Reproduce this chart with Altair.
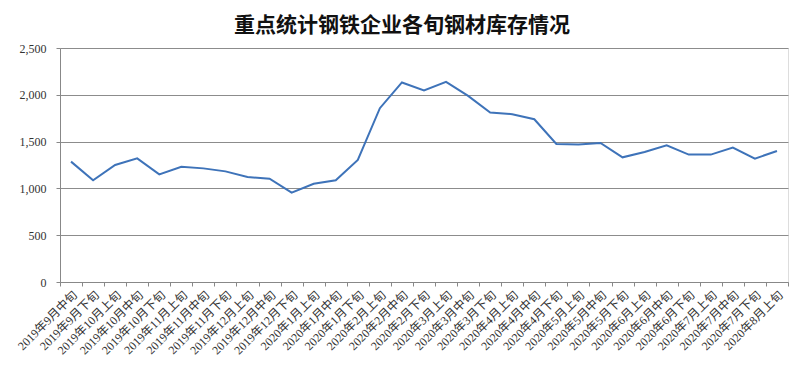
import altair as alt
import pandas as pd

periods = [
    "2019年9月中旬", "2019年9月下旬", "2019年10月上旬", "2019年10月中旬", "2019年10月下旬",
    "2019年11月上旬", "2019年11月中旬", "2019年11月下旬", "2019年12月上旬", "2019年12月中旬",
    "2019年12月下旬", "2020年1月上旬", "2020年1月中旬", "2020年1月下旬", "2020年2月上旬",
    "2020年2月中旬", "2020年2月下旬", "2020年3月上旬", "2020年3月中旬", "2020年3月下旬",
    "2020年4月上旬", "2020年4月中旬", "2020年4月下旬", "2020年5月上旬", "2020年5月中旬",
    "2020年5月下旬", "2020年6月上旬", "2020年6月中旬", "2020年6月下旬", "2020年7月上旬",
    "2020年7月中旬", "2020年7月下旬", "2020年8月上旬",
]
values = [
    1286, 1086, 1250, 1321, 1150, 1232, 1214, 1182, 1121, 1104,
    954, 1050, 1086, 1304, 1857, 2132, 2046, 2139, 1989, 1811,
    1793, 1739, 1475, 1468, 1486, 1332, 1389, 1461, 1361, 1361,
    1436, 1318, 1400,
]
y_ticks = [0, 500, 1000, 1500, 2000, 2500]

df = pd.DataFrame({"period": periods, "value": values})

label_font = "Liberation Serif, Noto Sans CJK SC"

chart = alt.Chart(df).mark_line(color="#3E73B9", strokeWidth=2).encode(
    x=alt.X(
        "period:N",
        sort=periods,
        title=None,
        bandPosition=0.5,
        scale=alt.Scale(type="band", paddingInner=0, paddingOuter=0),
        axis=alt.Axis(
            labelAngle=-45,
            labelFont=label_font,
            labelFontSize=12,
            labelColor="#333333",
            domainColor="#888888",
            tickColor="#888888",
            tickSize=4,
            tickBand="extent",
            labelPadding=3,
            grid=False,
        ),
    ),
    y=alt.Y(
        "value:Q",
        title=None,
        scale=alt.Scale(domain=[0, 2500], nice=False),
        axis=alt.Axis(
            values=y_ticks,
            format=",.0f",
            labelFont=label_font,
            labelFontSize=12,
            labelColor="#333333",
            domainColor="#888888",
            tickColor="#888888",
            tickSize=4,
            labelPadding=10,
            gridColor="#8C8C8C",
            gridWidth=1,
        ),
    ),
).properties(
    width=728,
    height=234,
    autosize="none",
    padding={"left": 52, "top": 40, "right": 4, "bottom": 88},
    title=alt.TitleParams(
        "重点统计钢铁企业各旬钢材库存情况",
        font="Noto Sans CJK SC",
        fontSize=21,
        fontWeight="bold",
        color="#111111",
        anchor="middle",
        dx=-22,
        offset=6,
    ),
).configure_view(stroke="transparent").configure(background="white")

chart.save("out.html", embed_options={"renderer": "svg", "actions": False})
